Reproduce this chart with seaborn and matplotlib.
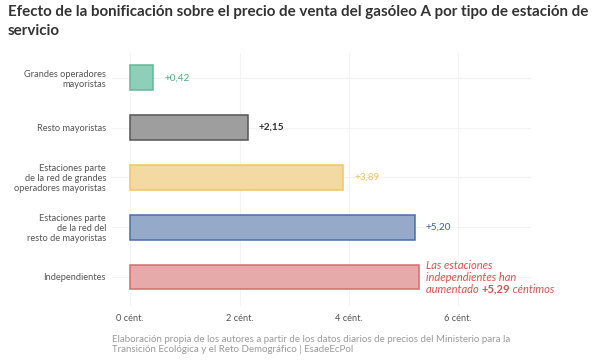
import numpy as np
import pandas as pd
import matplotlib
matplotlib.use("Agg")
import matplotlib.pyplot as plt
import seaborn as sns

# ==========================================================
# DATA
# ==========================================================

categories = [
    "Grandes operadores\nmayoristas",
    "Resto mayoristas",
    "Estaciones parte\nde la red de grandes\noperadores mayoristas",
    "Estaciones parte\nde la red del\nresto de mayoristas",
    "Independientes",
]

values = [0.42, 2.15, 3.89, 5.20, 5.29]

value_labels = ["+0,42", "+2,15", "+3,89", "+5,20", ""]

x_ticks = [0, 2, 4, 6]
x_tick_labels = ["0 cént.", "2 cént.", "4 cént.", "6 cént."]

fill_colors = ["#8fceb8", "#9e9e9e", "#f3d9a2", "#94aac8", "#e6aaaa"]
edge_colors = ["#62b896", "#555555", "#f0c565", "#4a6ea6", "#d9696b"]
text_colors = ["#4fae86", "#333333", "#f0c060", "#3d62a0", "#d9534f"]

df = pd.DataFrame({"Tipo": categories, "Valor": values})

# ==========================================================
# PLOT
# ==========================================================

sns.set_style("white")
plt.rcParams["font.family"] = ["Lato", "DejaVu Sans"]

fig = plt.figure(figsize=(6, 3.62), dpi=100)
ax = fig.add_axes([0.187, 0.155, 0.698, 0.699])

sns.barplot(
    data=df,
    y="Tipo",
    x="Valor",
    hue="Tipo",
    palette=fill_colors,
    saturation=1,
    orient="h",
    width=0.5,
    legend=False,
    ax=ax,
)

for patch, ec in zip(ax.patches, edge_colors):
    patch.set_edgecolor(ec)
    patch.set_linewidth(1.1)

for i, (v, lab) in enumerate(zip(values, value_labels)):
    if lab:
        ax.annotate(
            lab, xy=(v, i), xytext=(8, 0), textcoords="offset points",
            va="center", ha="left", fontsize=7.2, color=text_colors[i],
            fontweight="bold" if i == 1 else "normal",
        )

# annotation for independientes (three lines, centred on the bar)
red = text_colors[4]
fs = 8.0
dx = 5
for txt, dy in [("Las estaciones", 6.0), ("independientes han", -2.7)]:
    ax.annotate(
        txt, xy=(values[4], 4), xytext=(dx, dy), textcoords="offset points",
        va="baseline", ha="left", fontsize=fs, color=red, style="italic",
    )

fig.canvas.draw()
r = fig.canvas.get_renderer()
x_off = dx
for txt, kw in [("aumentado ", {"style": "italic"}),
                ("+5,29", {"fontweight": "bold"}),
                (" céntimos", {"style": "italic"})]:
    t = ax.annotate(
        txt, xy=(values[4], 4), xytext=(x_off, -11.4), textcoords="offset points",
        va="baseline", ha="left", fontsize=fs, color=red, **kw,
    )
    fig.canvas.draw()
    x_off += t.get_window_extent(r).width * 72 / fig.dpi

ax.set_xlim(-0.33, 7.33)
ax.set_ylim(4.58, -0.5)
ax.set_xticks(x_ticks)
ax.set_xticklabels(x_tick_labels)
ax.set_xlabel("")
ax.set_ylabel("")

ax.grid(True, color="#f3f3f3", linewidth=0.8)
ax.set_axisbelow(True)
for s in ax.spines.values():
    s.set_visible(False)

ax.tick_params(axis="y", length=2.5, width=0.8, color="#555555",
               labelsize=6.7, labelcolor="#555555", pad=2)
ax.tick_params(axis="x", length=2.5, width=0.8, color="#555555",
               labelsize=6.7, labelcolor="#555555", pad=3)
for lab in ax.get_yticklabels():
    lab.set_linespacing(1.15)

# ==========================================================
# TITLE / CAPTION
# ==========================================================

fig.text(
    0.013, 0.985,
    "Efecto de la bonificación sobre el precio de venta del gasóleo A por tipo de estación de\nservicio",
    ha="left", va="top", fontsize=10.9, fontweight="bold", color="#333333",
    linespacing=1.4,
)

fig.text(
    0.187, 0.022,
    "Elaboración propia de los autores a partir de los datos diarios de precios del Ministerio para la\n"
    "Transición Ecológica y el Reto Demográfico | EsadeEcPol",
    ha="left", va="bottom", fontsize=7.0, color="#9a9a9a", linespacing=1.15,
)

fig.savefig("out.png", dpi=100)
plt.close()
